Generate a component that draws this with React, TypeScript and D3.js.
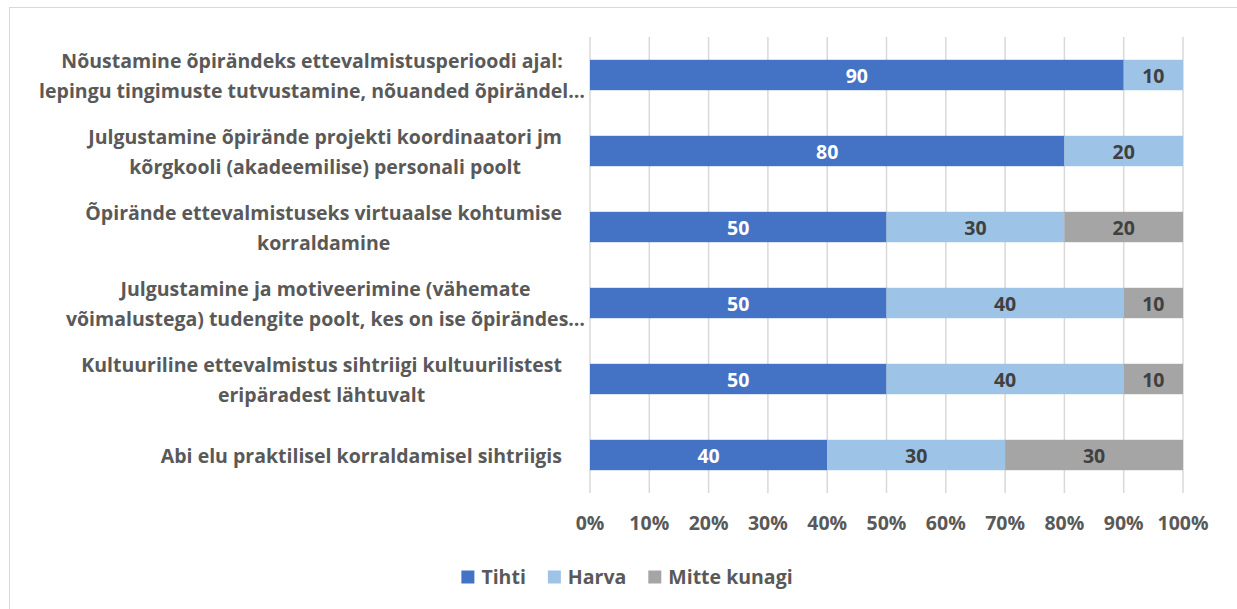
import React, { useEffect, useRef } from 'react';
import * as d3 from 'd3';

// category labels, already wrapped as in the source (Excel cuts long ones with …)
const categories: string[][] = [
  ['Nõustamine õpirändeks ettevalmistusperioodi ajal:', 'lepingu tingimuste tutvustamine, nõuanded õpirändel…'],
  ['Julgustamine õpirände projekti koordinaatori jm', 'kõrgkooli (akadeemilise) personali poolt'],
  ['Õpirände ettevalmistuseks virtuaalse kohtumise', 'korraldamine'],
  ['Julgustamine ja motiveerimine (vähemate', 'võimalustega) tudengite poolt, kes on ise õpirändes…'],
  ['Kultuuriline ettevalmistus sihtriigi kultuurilistest', 'eripäradest lähtuvalt'],
  ['Abi elu praktilisel korraldamisel sihtriigis'],
];

const seriesNames = ['Tihti', 'Harva', 'Mitte kunagi'];
const tihti = [90, 80, 50, 50, 50, 40];
const harva = [10, 20, 30, 40, 40, 30];
const mitteKunagi = [0, 0, 20, 10, 10, 30];

const xTicks = [0, 10, 20, 30, 40, 50, 60, 70, 80, 90, 100];

const colors = ['#4472C4', '#9DC3E6', '#A5A5A5'];
const labelColors = ['#ffffff', '#404040', '#404040'];

const W = 1237;
const H = 609;
const FONT = '"Open Sans", Lato, sans-serif';
const FS = 19.5;

export default function App() {
  const ref = useRef<SVGSVGElement>(null);

  useEffect(() => {
    const svg = d3.select(ref.current);
    svg.selectAll('*').remove();

    const x = d3.scaleLinear().domain([0, 100]).range([590, 1183]);
    const y = d3.scaleBand<number>()
      .domain(d3.range(categories.length))
      .range([37, 493])
      .paddingInner(0.6)
      .paddingOuter(0.3);

    // chart border (right and bottom edges fall outside the picture)
    svg.append('rect')
      .attr('x', 9.5).attr('y', 7.5)
      .attr('width', W + 20).attr('height', H + 20)
      .attr('fill', '#fff')
      .attr('stroke', '#d9d9d9');

    // gridlines
    svg.append('g')
      .selectAll('line')
      .data(xTicks)
      .join('line')
      .attr('x1', d => x(d)).attr('x2', d => x(d))
      .attr('y1', 37).attr('y2', 493)
      .attr('stroke', '#d9d9d9')
      .attr('stroke-width', 1.5);

    // stacked bars
    const rows = categories.map((_, i) => ({
      i,
      Tihti: tihti[i],
      Harva: harva[i],
      'Mitte kunagi': mitteKunagi[i],
    }));
    const stacked = d3.stack<any>().keys(seriesNames)(rows);

    stacked.forEach((layer, si) => {
      const g = svg.append('g');
      g.selectAll('rect')
        .data(layer.filter(d => d[1] - d[0] > 0))
        .join('rect')
        .attr('x', d => x(d[0]))
        .attr('y', d => y(d.data.i)!)
        .attr('width', d => x(d[1]) - x(d[0]))
        .attr('height', y.bandwidth())
        .attr('fill', colors[si]);

      g.selectAll('text')
        .data(layer.filter(d => d[1] - d[0] > 0))
        .join('text')
        .attr('x', d => (x(d[0]) + x(d[1])) / 2)
        .attr('y', d => y(d.data.i)! + y.bandwidth() / 2 + 1)
        .attr('dy', '0.36em')
        .attr('text-anchor', 'middle')
        .attr('font-family', FONT)
        .attr('font-weight', 700)
        .attr('font-size', FS)
        .attr('fill', labelColors[si])
        .text(d => d[1] - d[0]);
    });

    // category labels: block right-aligned, lines centred in the block
    const lineH = 29.5;
    categories.forEach((lines, i) => {
      const g = svg.append('g');
      const texts = lines.map((ln, k) =>
        g.append('text')
          .attr('font-family', FONT)
          .attr('font-weight', 700)
          .attr('font-size', FS)
          .attr('fill', '#595959')
          .attr('text-anchor', 'middle')
          .attr('dy', '0.36em')
          .attr('y', y(i)! + y.bandwidth() / 2 + 1 + (k - (lines.length - 1) / 2) * lineH)
          .text(ln)
      );
      const widths = texts.map(t => (t.node() as SVGTextElement).getComputedTextLength());
      const blockW = Math.max(...widths);
      const cut = lines.some(l => l.endsWith('…'));
      const right = cut ? 585 : 562;
      texts.forEach(t => t.attr('x', right - blockW / 2));
    });

    // x axis tick labels
    svg.append('g')
      .selectAll('text')
      .data(xTicks)
      .join('text')
      .attr('x', d => x(d))
      .attr('y', 523)
      .attr('dy', '0.36em')
      .attr('text-anchor', 'middle')
      .attr('font-family', FONT)
      .attr('font-weight', 700)
      .attr('font-size', FS)
      .attr('fill', '#595959')
      .text(d => d + '%');

    // legend
    const leg = svg.append('g');
    let cx = 0;
    seriesNames.forEach((name, si) => {
      const it = leg.append('g');
      it.append('rect')
        .attr('x', 0).attr('y', -6.5)
        .attr('width', 13).attr('height', 13)
        .attr('fill', colors[si]);
      const t = it.append('text')
        .attr('x', 20)
        .attr('dy', '0.36em')
        .attr('font-family', FONT)
        .attr('font-weight', 700)
        .attr('font-size', FS)
        .attr('fill', '#595959')
        .text(name);
      const w = 20 + (t.node() as SVGTextElement).getComputedTextLength();
      it.attr('transform', `translate(${cx},0)`);
      cx += w + 22;
    });
    const total = cx - 22;
    leg.attr('transform', `translate(${627 - total / 2},577)`);
  }, []);

  return (
    <svg
      ref={ref}
      width={W}
      height={H}
      style={{ position: 'absolute', left: 0, top: 0, background: '#fff' }}
    />
  );
}
